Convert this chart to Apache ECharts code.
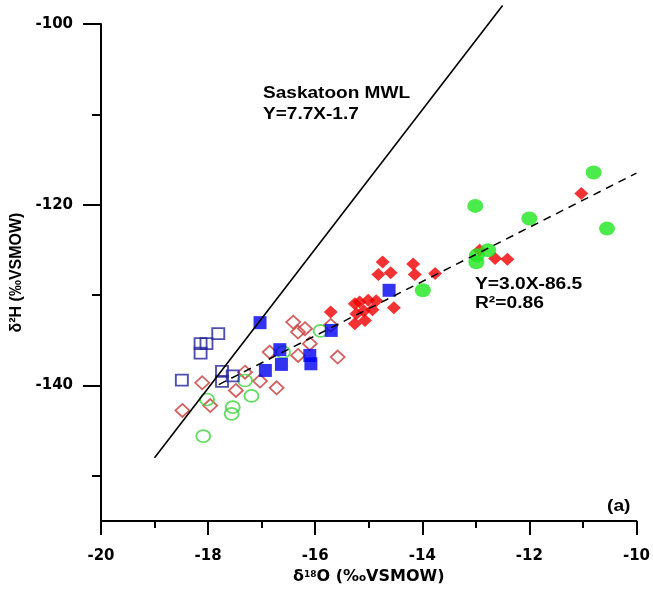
<!DOCTYPE html>
<html lang="en">
<head>
  <meta charset="UTF-8">
  <title>d18O vs d2H</title>
  <script src="https://cdn.jsdelivr.net/npm/echarts@6/dist/echarts.min.js"></script>
  <style>
    html, body { margin: 0; padding: 0; background: #fff; }
  </style>
</head>
<body>
<div id="main" style="width: 653px;height:592px;"></div>
<script type="text/javascript">
    // values, [δ18O, δ2H]
    var openSquares = [[-17.81, -134.27], [-18.14, -135.38], [-18.03, -135.38], [-18.14, -136.42],
        [-18.49, -139.41], [-17.74, -138.45], [-17.74, -139.56], [-17.54, -138.93]];
    var filledSquares = [[-17.03, -133.05], [-16.66, -136.04], [-16.63, -137.67], [-16.93, -138.34],
        [-16.10, -136.68], [-16.08, -137.60], [-15.70, -133.91], [-14.62, -129.47]];
    var openDiamonds = [[-18.48, -142.77], [-18.11, -139.70], [-17.96, -142.22], [-17.48, -140.55],
        [-17.31, -138.53], [-17.03, -139.52], [-16.72, -140.26], [-16.85, -136.31], [-16.41, -132.99],
        [-16.32, -134.09], [-16.19, -133.72], [-16.10, -135.38], [-16.32, -136.68], [-15.58, -136.86],
        [-15.71, -133.35]];
    var openCircles = [[-18.02, -141.55], [-17.54, -142.40], [-17.56, -143.14], [-18.09, -145.60],
        [-17.31, -139.45], [-17.19, -141.16], [-16.60, -136.31], [-15.90, -133.96]];
    var filledDiamonds = [[-15.71, -131.88], [-15.26, -130.95], [-15.17, -130.77], [-15.01, -130.58],
        [-14.86, -130.64], [-14.93, -131.63], [-15.09, -131.75], [-15.23, -132.06], [-15.26, -133.16],
        [-15.07, -132.80], [-14.53, -131.41], [-14.74, -126.34], [-14.82, -127.72], [-14.59, -127.53],
        [-14.17, -126.56], [-14.14, -127.72], [-13.76, -127.62], [-12.93, -125.04], [-12.64, -125.96],
        [-12.41, -126.04], [-11.03, -118.76]];
    var filledCircles = [[-10.80, -116.43], [-13.01, -120.13], [-12.00, -121.53], [-10.55, -122.64],
        [-13.99, -129.47], [-12.98, -125.60], [-12.77, -125.04], [-12.99, -126.37]];

    // Saskatoon MWL and regression line end points
    var mwlLine = [[-19, -148.0], [-12.5, -97.95]];
    var fitLine = [[-17.8, -139.9], [-10, -116.5]];

    var yMajorTicks = [-140, -120, -100];
    var yMinorTicks = [-150, -130, -110];

    var myChart = echarts.init(document.getElementById('main'));

    var labelFont = 'DejaVu Sans';
    var textFont = 'Liberation Sans';

    function openStyle(color) {
        return { color: 'rgba(0,0,0,0)', borderColor: color, borderWidth: 1.8 };
    }

    option = {
        animation: false,
        backgroundColor: '#fff',
        grid: { left: 101, right: 16, top: 24, bottom: 71 },
        xAxis: {
            type: 'value',
            min: -20,
            max: -10,
            interval: 2,
            splitLine: { show: false },
            axisLine: { lineStyle: { color: '#000', width: 2 } },
            axisTick: { length: 14, lineStyle: { color: '#000', width: 2 } },
            minorTick: { show: true, splitNumber: 2, length: 7, lineStyle: { color: '#000', width: 2 } },
            minorSplitLine: { show: false },
            axisLabel: { margin: 28, color: '#000', fontFamily: labelFont, fontWeight: 'bold', fontSize: 15 },
            name: '{b|δ}{s|18}{b|O (‰VSMOW)}',
            nameLocation: 'middle',
            nameGap: 42,
            nameTextStyle: {
                rich: {
                    b: { fontFamily: labelFont, fontWeight: 'bold', fontSize: 16, color: '#000' },
                    s: { fontFamily: labelFont, fontWeight: 'bold', fontSize: 9, color: '#000', verticalAlign: 'top', padding: [1, 0, 0, 0] }
                }
            }
        },
        yAxis: [{
            type: 'value',
            min: -155,
            max: -100,
            splitLine: { show: false },
            axisLine: { lineStyle: { color: '#000', width: 2 } },
            axisTick: { customValues: yMajorTicks, length: 18, lineStyle: { color: '#000', width: 2 } },
            axisLabel: { customValues: yMajorTicks, margin: 28, color: '#000', fontFamily: labelFont, fontWeight: 'bold', fontSize: 15 },
            name: 'δ²H (‰VSMOW)',
            nameLocation: 'middle',
            nameGap: 74,
            nameTextStyle: { fontFamily: textFont, fontWeight: 'bold', fontSize: 16, color: '#000' }
        }, {
            type: 'value',
            min: -155,
            max: -100,
            position: 'left',
            splitLine: { show: false },
            axisLine: { show: false },
            axisTick: { customValues: yMinorTicks, length: 9, lineStyle: { color: '#000', width: 2 } },
            axisLabel: { show: false }
        }],
        graphic: [{
            type: 'text', x: 263, y: 83, scaleX: 1.12,
            style: { text: 'Saskatoon MWL\nY=7.7X-1.7', font: 'bold 17px "Liberation Sans"', fill: '#000', lineHeight: 21, verticalAlign: 'top' }
        }, {
            type: 'text', x: 475, y: 275.5, scaleX: 1.2,
            style: { text: 'Y=3.0X-86.5\nR²=0.86', font: 'bold 16px "Liberation Sans"', fill: '#000', lineHeight: 19, verticalAlign: 'top' }
        }, {
            type: 'text', x: 607, y: 497.5, scaleX: 1.2,
            style: { text: '(a)', font: 'bold 16px "Liberation Sans"', fill: '#000', lineHeight: 18, verticalAlign: 'top' }
        }],
        series: [{
            type: 'scatter', symbol: 'diamond', symbolSize: [14, 13],
            itemStyle: openStyle('#c93a3a'), data: openDiamonds
        }, {
            type: 'scatter', symbol: 'circle', symbolSize: [14, 12],
            itemStyle: openStyle('#3ed43e'), data: openCircles
        }, {
            type: 'scatter', symbol: 'rect', symbolSize: [12, 11],
            itemStyle: openStyle('#23239b'), data: openSquares
        }, {
            type: 'scatter', symbol: 'rect', symbolSize: [13, 13],
            itemStyle: { color: '#0000f0' }, data: filledSquares
        }, {
            type: 'scatter', symbol: 'diamond', symbolSize: [14, 13],
            itemStyle: { color: '#f00000' }, data: filledDiamonds
        }, {
            type: 'scatter', symbol: 'circle', symbolSize: [16, 14],
            itemStyle: { color: '#1ee61e' }, data: filledCircles
        }, {
            type: 'line', data: mwlLine, showSymbol: false, clip: false, z: 5,
            lineStyle: { color: '#000', width: 1.6 }
        }, {
            type: 'line', data: fitLine, showSymbol: false, z: 5,
            lineStyle: { color: '#000', width: 1.5, type: [8, 6] }
        }]
    };

    myChart.setOption(option);
</script>
</body>
</html>
